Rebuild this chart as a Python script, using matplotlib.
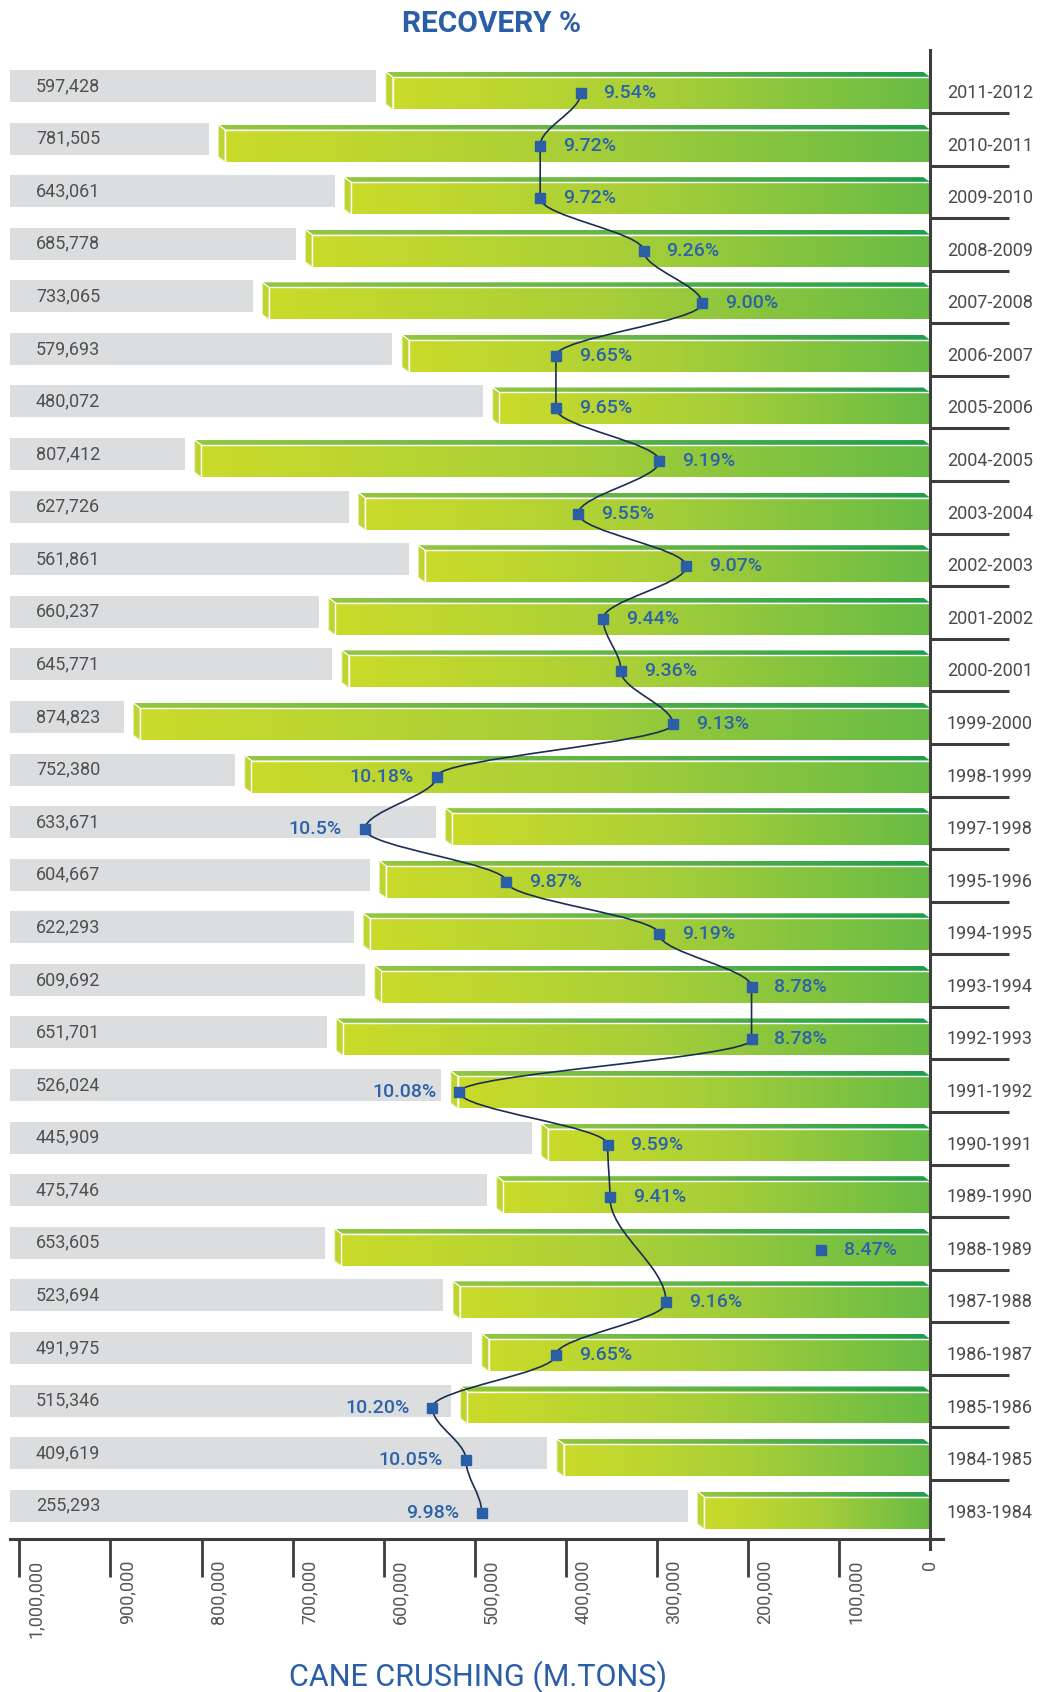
import numpy as np
import matplotlib.pyplot as plt
from matplotlib.colors import LinearSegmentedColormap
from matplotlib.patches import Polygon, Rectangle, PathPatch
from matplotlib.path import Path

# data, top row first
years = ['2011-2012', '2010-2011', '2009-2010', '2008-2009', '2007-2008', '2006-2007',
         '2005-2006', '2004-2005', '2003-2004', '2002-2003', '2001-2002', '2000-2001',
         '1999-2000', '1998-1999', '1997-1998', '1995-1996', '1994-1995', '1993-1994',
         '1992-1993', '1991-1992', '1990-1991', '1989-1990', '1988-1989', '1987-1988',
         '1986-1987', '1985-1986', '1984-1985', '1983-1984']
# cane crushing as printed in the grey labels
crushing = [597428, 781505, 643061, 685778, 733065, 579693, 480072, 807412, 627726,
            561861, 660237, 645771, 874823, 752380, 633671, 604667, 622293, 609692,
            651701, 526024, 445909, 475746, 653605, 523694, 491975, 515346, 409619, 255293]
# bar lengths as drawn (two bars in the original are not drawn to their label)
bar_drawn = [597428, 781505, 643061, 685778, 733065, 579693, 480072, 807412, 627726,
             561861, 660237, 645771, 874823, 752380, 532000, 604667, 622293, 609692,
             651701, 526024, 426800, 475746, 653605, 523694, 491975, 515346, 409619, 255293]
# recovery % marker positions as drawn, and the printed labels
recovery = [9.54, 9.72, 9.72, 9.26, 9.00, 9.65, 9.65, 9.19, 9.55, 9.07, 9.44, 9.36, 9.13,
            10.18, 10.5, 9.87, 9.19, 8.78, 8.78, 10.08, 9.42, 9.41, 8.47, 9.16, 9.65,
            10.20, 10.05, 9.98]
recovery_text = ['9.54%', '9.72%', '9.72%', '9.26%', '9.00%', '9.65%', '9.65%', '9.19%',
                 '9.55%', '9.07%', '9.44%', '9.36%', '9.13%', '10.18%', '10.5%', '9.87%',
                 '9.19%', '8.78%', '8.78%', '10.08%', '9.59%', '9.41%', '8.47%', '9.16%',
                 '9.65%', '10.20%', '10.05%', '9.98%']
not_on_line = ['1988-1989']
ticks = [1000000, 900000, 800000, 700000, 600000, 500000, 400000, 300000, 200000, 100000, 0]
tick_text = ['1,000,000', '900,000', '800,000', '700,000', '600,000', '500,000',
             '400,000', '300,000', '200,000', '100,000', '0']

plt.rcParams['font.family'] = ['Roboto', 'DejaVu Sans']

W, H = 1041, 1692
AX_H = 1539          # axis line, pixels from top
ROW = 52.58          # pixels per row
per_px = 1e6 / (930 - 19.4)   # value units per pixel (0 sits at x=930)

def px2val(px):
    return (930 - px) * per_px

fig = plt.figure(figsize=(W / 100, H / 100), dpi=100)
ax = fig.add_axes([0, 1 - AX_H / H, 1, AX_H / H])
ax.set_autoscale_on(False)
ax.set_xlim(px2val(0), px2val(W))
ax.set_ylim((AX_H - 93) / ROW, -93 / ROW)

front_cmap = LinearSegmentedColormap.from_list('front', ['#cadb2a', '#a8cf38', '#68bb45'])
top_cmap = LinearSegmentedColormap.from_list('top', ['#93c73e', '#62b346', '#1e9f4b'])
grad = np.linspace(0, 1, 256)[None, :]

h = 32 / ROW
d = 5 / ROW
dx = 6.6 * per_px
gap = 9.7 * per_px
gray_left = px2val(10)
gray_shift = 7 / ROW

for i, v in enumerate(bar_drawn):
    top, bot = i - h / 2, i + h / 2
    fl = v - dx
    # grey filler to the left of the bar
    ax.add_patch(Rectangle((v + gap, i - gray_shift - h / 2), gray_left - (v + gap), h,
                           facecolor='#dcdddf', lw=0, zorder=1))
    # front face
    ax.imshow(grad, cmap=front_cmap, extent=(fl, 0, bot, top), aspect='auto',
              interpolation='bilinear', zorder=2)
    # top face
    tp = Polygon([(v, top - d), (dx, top - d), (0, top), (fl, top)], closed=True,
                 facecolor='none', edgecolor='none')
    ax.add_patch(tp)
    im = ax.imshow(grad, cmap=top_cmap, extent=(v, 0, top, top - d), aspect='auto',
                   interpolation='bilinear', zorder=2)
    im.set_clip_path(tp)
    # side face
    ax.add_patch(Polygon([(v, top - d), (fl, top), (fl, bot), (v, bot - d)], closed=True,
                         facecolor='#bed530', edgecolor='#e8f0b0', lw=0.6, zorder=2))
    ax.plot([fl, fl, 0], [bot, top, top], color='white', lw=1.0, zorder=3)
    ax.plot([v, fl], [top - d, top], color='white', lw=0.8, zorder=3)

    ax.text(px2val(36), i - gray_shift, f'{crushing[i]:,}', ha='left', va='center',
            fontsize=13, color='#505050', zorder=4)
    ax.text(px2val(947), i, years[i], ha='left', va='center', fontsize=13,
            color='#4a4a4a')
    if i < len(years) - 1:
        ax.plot([0, px2val(1009)], [i + 0.38, i + 0.38], color='#3d3d3d', lw=2.2,
                solid_capstyle='butt')

# axes decoration
for s in ['top', 'left', 'right']:
    ax.spines[s].set_visible(False)
ax.spines['bottom'].set_bounds(px2val(10), px2val(943))
ax.spines['bottom'].set_linewidth(2.2)
ax.spines['bottom'].set_color('#3d3d3d')
ax.set_xticks([t for t in ticks if t > 0])
ax.tick_params(axis='x', length=27.4, width=2, color='#3d3d3d', labelbottom=False)
ax.set_yticks([])
ax.axvline(0, ymin=-10 / AX_H, ymax=1 - 50 / AX_H, color='#3d3d3d', lw=2.2,
           clip_on=False, zorder=6)

for t, lab in zip(ticks, tick_text):
    off = 0 if t == 0 else 12.0
    ax.annotate(lab, xy=(t, 0), xycoords=('data', 'axes fraction'), xytext=(off, -15.1),
                textcoords='offset points', rotation=90, ha='center', va='top',
                fontsize=13, color='#555555', annotation_clip=False)

# recovery % on its own x scale
ax2 = ax.twiny()
ax2.set_autoscale_on(False)
ax2.set_xlim([9 + (x - 250300) / 246930 for x in ax.get_xlim()])
ax2.set_ylim(ax.get_ylim())
ax2.axis('off')

pts = [(r, i) for i, (yr, r) in enumerate(zip(years, recovery)) if yr not in not_on_line]
verts, codes = [pts[0]], [Path.MOVETO]
for (x0, y0), (x1, y1) in zip(pts[:-1], pts[1:]):
    k = 0.35 * (y1 - y0)
    verts += [(x0, y0 + k), (x1, y1 - k), (x1, y1)]
    codes += [Path.CURVE4] * 3
ax2.add_patch(PathPatch(Path(verts, codes), facecolor='none', edgecolor='#1c2d52',
                        lw=1.2, zorder=5))
ax2.plot(recovery, range(len(recovery)), 's', ms=6.5, color='#2a5fa8', mec='#2a5fa8',
         zorder=6)
for i, (r, txt) in enumerate(zip(recovery, recovery_text)):
    left = r >= 9.95
    ax2.annotate(txt, xy=(r, i), xytext=(-16.5 if left else 16.5, 0),
                 textcoords='offset points', ha='right' if left else 'left',
                 va='center', fontsize=14, fontweight='medium', color='#2c62a9', zorder=7)

fig.text(491.7 / W, 1 - 24 / H, 'RECOVERY %', ha='center', va='center', fontsize=21.5,
         fontweight='bold', color='#2a5fa8')
fig.text(478 / W, 1 - 1677 / H, 'CANE CRUSHING (M.TONS)', ha='center', va='center',
         fontsize=22, color='#2a5fa8')

fig.savefig('out.png', dpi=100)
